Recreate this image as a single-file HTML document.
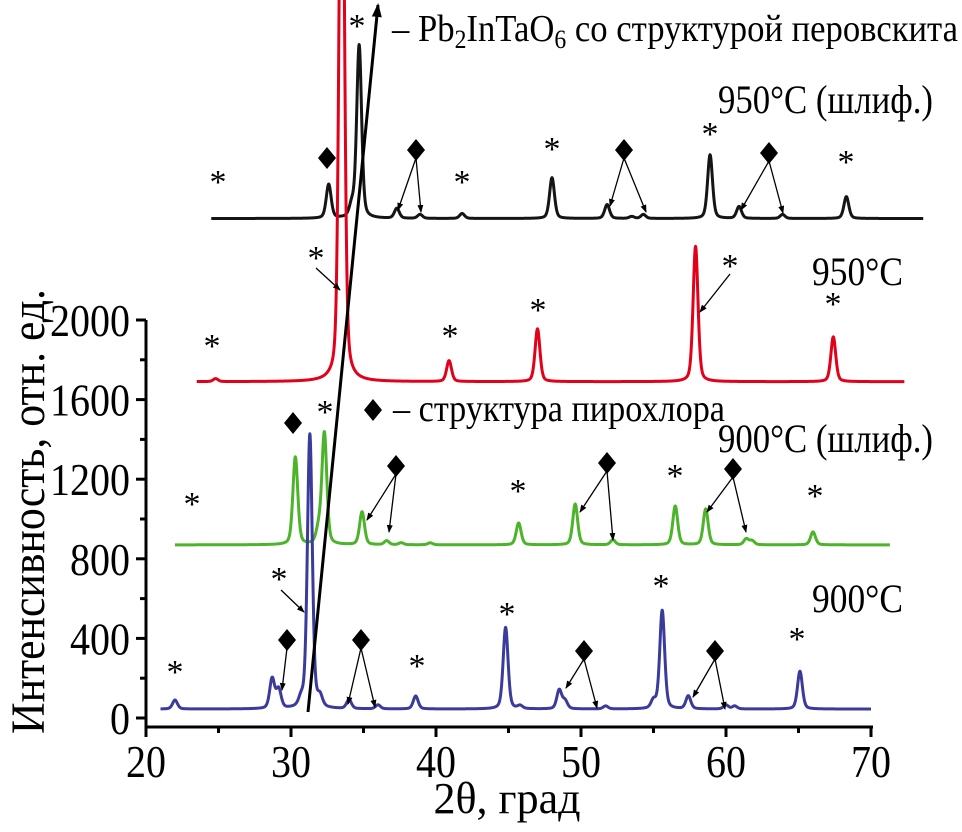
<!DOCTYPE html>
<html><head><meta charset="utf-8">
<style>
html,body{margin:0;padding:0;background:#fff;}
svg{display:block;font-family:"Liberation Serif",serif;}
</style></head>
<body>
<svg id="chart" width="962" height="832" viewBox="0 0 962 832" xmlns="http://www.w3.org/2000/svg">
<defs>
<marker id="ah" markerWidth="8" markerHeight="8" refX="7" refY="4" orient="auto" markerUnits="userSpaceOnUse"><path d="M0,1 L8,4 L0,7 Z" fill="#000"/></marker>
<marker id="ahb" markerWidth="14" markerHeight="14" refX="12" refY="7" orient="auto" markerUnits="userSpaceOnUse"><path d="M0,2 L14,7 L0,12 Z" fill="#000"/></marker>
</defs>
<g id="series"></g>
<g id="axes"></g>
<g id="ann"></g>
</svg>
<script>
const xTicks = [20, 30, 40, 50, 60, 70];
const yTicks = [0, 400, 800, 1200, 1600, 2000];
const bluePos = [22.0, 28.7, 29.15, 30.7, 31.3, 32.0, 34.0, 36.0, 38.6, 44.8, 45.8, 48.5, 48.9, 51.7, 55.0, 55.6, 57.4, 60.0, 60.6, 65.1];
const blueHt  = [45, 150, 95, 40, 1380, 50, 45, 20, 65, 410, 15, 95, 40, 15, 40, 495, 65, 20, 15, 190];
const greenPos = [30.3, 31.9, 32.3, 34.9, 36.6, 37.6, 39.6, 45.7, 49.6, 52.2, 56.5, 58.6, 61.4, 61.8, 66.0];
const greenHt  = [440, 70, 560, 165, 20, 10, 10, 110, 205, 25, 195, 180, 30, 20, 65];
const redPos = [24.8, 33.5, 40.9, 47.0, 57.9, 67.4];
const redHt  = [15, 3500, 105, 265, 680, 225];
const blackPos = [32.6, 34.2, 34.7, 37.3, 38.9, 41.8, 48.0, 51.8, 53.5, 54.3, 58.9, 60.9, 63.9, 68.3];
const blackHt  = [170, 60, 870, 50, 20, 25, 205, 70, 10, 20, 320, 60, 20, 110];
const baselines = [45, 870, 1690, 2510];
const ranges = [[21, 70], [22, 71.3], [23.5, 72.3], [24.5, 73.6]];

const NS = "http://www.w3.org/2000/svg";
const xs = d => 146 + (d - 20) * 14.5;
const ys = v => 718 - v * 0.199;
function mk(tag, attrs, parent){const e=document.createElementNS(NS,tag);for(const k in attrs)e.setAttribute(k,attrs[k]);parent.appendChild(e);return e;}

const sg = document.getElementById('series');
function drawSeries(pos, ht, base, range, color, name){
  const w = 0.2;
  let d = "";
  for (let t = range[0]; t <= range[1] + 1e-9; t += 0.02){
    let v = base;
    for (let i = 0; i < pos.length; i++){
      const q = (t - pos[i]) / w;
      v += ht[i] * (0.35 / (1 + q*q) + 0.65 * Math.exp(-0.693 * q*q));
    }
    d += (d ? "L" : "M") + xs(t).toFixed(2) + "," + ys(v).toFixed(2);
  }
  const p = mk('path', {d: d, fill: 'none', stroke: color, 'stroke-width': 3, 'stroke-linejoin': 'round'}, sg);
  
  
}
drawSeries(blackPos, blackHt, baselines[3], ranges[3], '#151515', 'series-950c-polished');
drawSeries(redPos, redHt, baselines[2], ranges[2], '#e3001b', 'series-950c');
drawSeries(greenPos, greenHt, baselines[1], ranges[1], '#4cb32b', 'series-900c-polished');
drawSeries(bluePos, blueHt, baselines[0], ranges[0], '#3b3b9c', 'series-900c');

const ag = document.getElementById('axes');
const ya = mk('line', {x1:146, y1:320, x2:146, y2:728, stroke:'#000', 'stroke-width':3}, ag);


const xa = mk('line', {x1:144.5, y1:727, x2:873, y2:727, stroke:'#000', 'stroke-width':3}, ag);


for (let i = 0; i < xTicks.length; i++){
  const x = xs(xTicks[i]);
  mk('line', {x1:x, y1:727, x2:x, y2:737, stroke:'#000', 'stroke-width':3}, ag);
  if (i < xTicks.length - 1) mk('line', {x1:xs(xTicks[i]+5), y1:727, x2:xs(xTicks[i]+5), y2:733, stroke:'#000', 'stroke-width':3}, ag);
  const s = String(xTicks[i]);
  const t = mk('text', {x:x - s.length*10, y:777, 'font-size':46, textLength:s.length*20, lengthAdjust:'spacingAndGlyphs'}, ag);
  t.textContent = s;
  
  
}
for (let i = 0; i < yTicks.length; i++){
  const y = ys(yTicks[i]);
  mk('line', {x1:136, y1:y, x2:146, y2:y, stroke:'#000', 'stroke-width':3}, ag);
  if (i < yTicks.length - 1) mk('line', {x1:140, y1:ys(yTicks[i]+200), x2:146, y2:ys(yTicks[i]+200), stroke:'#000', 'stroke-width':3}, ag);
  const s = String(yTicks[i]);
  const t = mk('text', {x:130 - s.length*20, y:y+16, 'font-size':46, textLength:s.length*20, lengthAdjust:'spacingAndGlyphs'}, ag);
  t.textContent = s;
  
  
}
const xt = mk('text', {x:507, y:813, 'font-size':44, 'text-anchor':'middle'}, ag);
xt.textContent = '2θ, град';


const yt = mk('text', {x:-222, y:0, 'font-size':48, textLength:445, lengthAdjust:'spacingAndGlyphs', transform:'translate(44,512) rotate(-90)'}, ag);
yt.textContent = 'Интенсивность, отн. ед.';



const an = document.getElementById('ann');
function star(x, y){ const t = mk('text', {x:x, y:y+15, 'font-size':34, 'text-anchor':'middle'}, an); t.textContent = '*';
  
   }
function dia(x, y){ const p = mk('path', {d:`M${x},${y-11} L${x+9},${y} L${x},${y+11} L${x-9},${y} Z`, fill:'#000'}, an);
  
   }
function arr(x1, y1, x2, y2){ mk('line', {x1:x1, y1:y1, x2:x2, y2:y2, stroke:'#000', 'stroke-width':1.3, 'marker-end':'url(#ah)'}, an); }

// black
star(218,178); dia(327,158); star(357,22); dia(416,150); arr(416,158,398,210); arr(416,158,421,212);
star(462,178); star(552,145); dia(624,150); arr(624,158,610,206); arr(624,158,646,212);
star(710,130); dia(769,153); arr(769,161,741,210); arr(769,161,783,213); star(846,158);
// red
star(212,342); star(316,254); arr(316,268,340,290); star(450,332); star(538,306);
star(730,262); arr(730,274,700,312); star(833,300);
// green
star(192,500); dia(293,423); star(325,408); dia(396,466); arr(396,474,367,520); arr(396,474,389,532);
star(518,487); dia(607,463); arr(607,471,580,512); arr(607,471,613,540);
star(675,472); dia(733,469); arr(733,477,707,512); arr(733,477,746,532); star(815,492);
// blue
star(175,668); star(279,575); arr(281,590,304,612); dia(287,640); arr(287,648,282,690);
dia(361,640); arr(361,648,348,704); arr(361,648,375,707); star(417,662); star(507,610);
dia(584,651); arr(584,659,566,688); arr(584,659,597,708); star(661,582);
dia(715,651); arr(715,659,693,697); arr(715,659,725,709); star(797,635);

const big = mk('line', {x1:308, y1:712, x2:378, y2:5, stroke:'#000', 'stroke-width':3, 'marker-end':'url(#ahb)'}, an);



function label(x, y, txt, name, size, len){
  const t = mk('text', {x:x, y:y, 'font-size':size, textLength:len, lengthAdjust:'spacingAndGlyphs'}, an);
  t.innerHTML = txt;
  
  
}
label(392, 41, '– Pb<tspan font-size="26" dy="7">2</tspan><tspan dy="-7">InTaO</tspan><tspan font-size="26" dy="7">6</tspan><tspan dy="-7"> со структурой перовскита</tspan>', 'perovskite-legend', 38, 566);
label(718, 113, '950°C (шлиф.)', 'label-950c-polished', 40, 215);
label(812, 285, '950°C', 'label-950c', 40, 91);
label(718, 452, '900°C (шлиф.)', 'label-900c-polished', 40, 215);
label(812, 612, '900°C', 'label-900c', 40, 91);
dia(373, 410);
label(393, 421, '– структура пирохлора', 'pyrochlore-legend', 38, 332);
</script>
</body></html>
